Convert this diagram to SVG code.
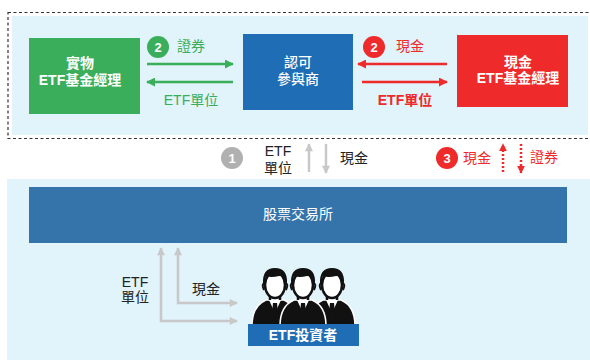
<svg xmlns="http://www.w3.org/2000/svg" width="590" height="360" viewBox="0 0 590 360">
  <style>
    text { font-family: "Liberation Sans", "Noto Sans CJK TC", sans-serif; font-size: 14px; text-anchor: middle; }
    .w { fill: #ffffff; }
    .b { font-weight: bold; }
    .g { fill: #3aae5a; }
    .r { fill: #ee2a2b; }
    .k { fill: #222222; }
    .badge { font-size: 13px; font-weight: bold; fill: #ffffff; }
    .ga { stroke: #3aae5a; stroke-width: 2.5; fill: none; }
    .ra { stroke: #ee2a2b; stroke-width: 2.5; fill: none; }
    .gy { stroke: #c8c8c8; stroke-width: 2.5; fill: none; }
    .dot { stroke: #ee2a2b; stroke-width: 2.5; fill: none; stroke-dasharray: 2 2; }
  </style>
  <defs>
    <marker id="hg" viewBox="0 0 10 10" refX="9" refY="5" markerUnits="userSpaceOnUse" markerWidth="9" markerHeight="9" orient="auto-start-reverse">
      <path d="M0,0 L10,5 L0,10 Z" fill="#3aae5a"/>
    </marker>
    <marker id="hr" viewBox="0 0 10 10" refX="9" refY="5" markerUnits="userSpaceOnUse" markerWidth="9" markerHeight="9" orient="auto-start-reverse">
      <path d="M0,0 L10,5 L0,10 Z" fill="#ee2a2b"/>
    </marker>
    <marker id="hgy" viewBox="0 0 10 10" refX="9" refY="5" markerUnits="userSpaceOnUse" markerWidth="9" markerHeight="8" orient="auto-start-reverse">
      <path d="M0,0 L10,5 L0,10 Z" fill="#c8c8c8"/>
    </marker>
    <marker id="hrs" viewBox="0 0 10 10" refX="9" refY="5" markerUnits="userSpaceOnUse" markerWidth="8" markerHeight="8" orient="auto-start-reverse">
      <path d="M0,0 L10,5 L0,10 Z" fill="#ee2a2b"/>
    </marker>
    <!-- one investor figure, drawn around x=0 -->
    <g id="person">
      <path d="M-23,326 Q-23,306 -9,300 L9,300 Q23,306 23,326 Z" fill="#111111" stroke="#ffffff" stroke-width="1.5"/>
      <path d="M-6,300 L6,300 L0,313 Z" fill="#ffffff"/>
      <path d="M-2,303 L2,303 L3.5,318 L0,322 L-3.5,318 Z" fill="#111111"/>
      <path d="M-5,292 L-5,300 M5,292 L5,300" stroke="#111111" stroke-width="2.5"/>
      <ellipse cx="0" cy="285" rx="10" ry="13" fill="#ffffff" stroke="#111111" stroke-width="2.5"/>
      <path d="M-12,284 Q-13,268 0,268 Q13,268 12,284 L10,281 Q9,276 4,276 Q-4,278 -9,276 Q-10,280 -10,282 Z" fill="#111111"/>
      <path d="M-10,283 Q-14,284 -11,290 M10,283 Q14,284 11,290" stroke="#111111" stroke-width="2" fill="none"/>
    </g>
  </defs>

  <!-- upper zone: primary market -->
  <rect x="8" y="12.5" width="590" height="126" fill="none" stroke="#333333" stroke-width="1.2" stroke-dasharray="3 2.5"/>
  <rect x="12" y="16" width="576" height="119" fill="#e1f3fb"/>

  <!-- lower zone: secondary market -->
  <rect x="7" y="179" width="583" height="181" fill="#e1f3fb"/>

  <g id="connectors">
    <!-- in-kind manager <-> participant -->
    <path class="ga" d="M147,64 H233" marker-end="url(#hg)"/>
    <path class="ga" d="M233,82 H147" marker-end="url(#hg)"/>
    <!-- participant <-> cash manager -->
    <path class="ra" d="M447,64 H358" marker-end="url(#hr)"/>
    <path class="ra" d="M362,82 H447" marker-end="url(#hr)"/>
    <!-- step 1 -->
    <path class="gy" d="M309,172 V144" marker-end="url(#hgy)"/>
    <path class="gy" d="M326,144 V173" marker-end="url(#hgy)"/>
    <!-- step 3 -->
    <path class="dot" d="M503,172 V144" marker-end="url(#hrs)"/>
    <path class="dot" d="M521,144 V173" marker-end="url(#hrs)"/>
    <!-- exchange <-> investors -->
    <path class="gy" d="M161,248 V321 H237" marker-start="url(#hgy)" marker-end="url(#hgy)"/>
    <path class="gy" d="M178,248 V303 H237" marker-start="url(#hgy)" marker-end="url(#hgy)"/>
  </g>

  <g id="inkind-manager">
    <rect x="29" y="38" width="111" height="76" fill="#3aae5a"/>
    <text class="w b" x="80" y="68">實物</text>
    <text class="w b" x="80" y="85">ETF基金經理</text>
  </g>

  <g id="participant">
    <rect x="243" y="34" width="110" height="76" fill="#1f6db4"/>
    <text class="w" x="298" y="67" font-weight="500">認可</text>
    <text class="w" x="298" y="84" font-weight="500">參與商</text>
  </g>

  <g id="cash-manager">
    <rect x="457" y="35" width="111" height="72" fill="#ee2a2b"/>
    <text class="w b" x="518" y="67">現金</text>
    <text class="w b" x="518" y="83">ETF基金經理</text>
  </g>

  <g id="label-green">
    <circle cx="158" cy="47" r="11" fill="#3aae5a"/>
    <text class="badge" x="158" y="51.5">2</text>
    <text class="g" x="191" y="51">證券</text>
    <text class="g" x="191" y="105">ETF單位</text>
  </g>

  <g id="label-red">
    <circle cx="374" cy="47" r="11" fill="#ee2a2b"/>
    <text class="badge" x="374" y="51.5">2</text>
    <text class="r" x="410" y="51">現金</text>
    <text class="r b" x="405" y="105">ETF單位</text>
  </g>

  <g id="step1">
    <circle cx="232" cy="158" r="11" fill="#b0b0b0"/>
    <text class="badge" x="232" y="162.5">1</text>
    <text class="k" x="278" y="156">ETF</text>
    <text class="k" x="278" y="173">單位</text>
    <text class="k" x="354" y="163">現金</text>
  </g>

  <g id="step3">
    <circle cx="447" cy="158" r="11" fill="#ee2a2b"/>
    <text class="badge" x="447" y="162.5">3</text>
    <text class="r" x="477" y="163">現金</text>
    <text class="r" x="544" y="162">證券</text>
  </g>

  <g id="exchange">
    <rect x="29" y="187" width="538" height="56" fill="#3474ab"/>
    <text class="w" x="298" y="219" font-size="15">股票交易所</text>
  </g>

  <g id="investors">
    <use href="#person" x="275"/>
    <use href="#person" x="332"/>
    <use href="#person" x="303"/>
    <rect x="248" y="324" width="111" height="22" fill="#1f6db4"/>
    <text class="w b" x="303" y="340">ETF投資者</text>
  </g>

  <g id="label-lower">
    <text class="k" x="135" y="287">ETF</text>
    <text class="k" x="135" y="302">單位</text>
    <text class="k" x="206" y="294">現金</text>
  </g>
</svg>
